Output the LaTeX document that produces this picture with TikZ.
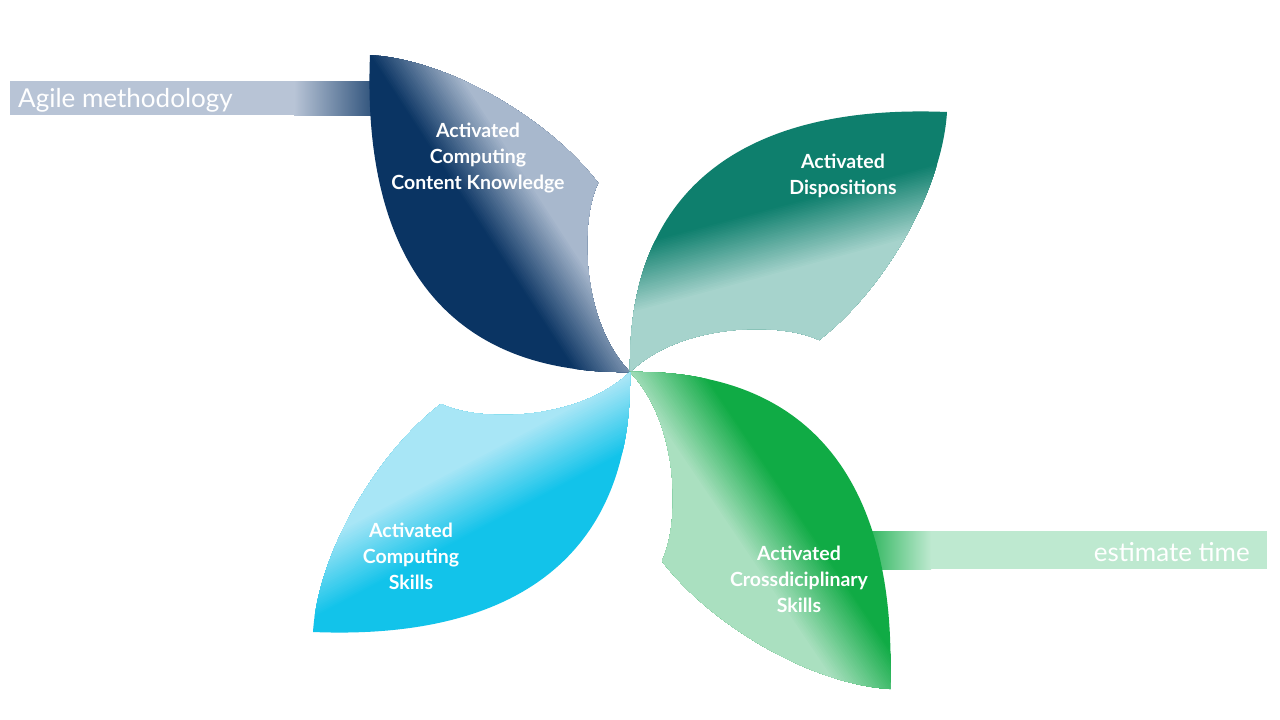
\documentclass[tikz,border=0pt]{standalone}
\usepackage{fontspec}
\setmainfont{Lato}
\definecolor{navyD}{HTML}{0A3463}
\definecolor{navyL}{HTML}{A8B8CD}
\definecolor{tealD}{HTML}{0E7F6D}
\definecolor{tealL}{HTML}{A6D3CC}
\definecolor{greenD}{HTML}{10AB45}
\definecolor{greenL}{HTML}{AAE0C0}
\definecolor{cyanD}{HTML}{12C3EA}
\definecolor{cyanL}{HTML}{A8E6F6}
\definecolor{agileL}{HTML}{B8C4D6}
\definecolor{estL}{HTML}{BEE9D0}
\tikzset{
  petalshape/.style={insert path={(0,0) .. controls (-190,3) and (-268,-122) .. (-260,-317)
     .. controls (-180,-312) and (-80,-252) .. (-32,-189)
     .. controls (-50,-152) and (-50,-52) .. (0,0) -- cycle}},
  lbl/.style={text=white, font=\bfseries\fontsize{19.5}{26}\selectfont, align=center, inner sep=0pt},
  barlbl/.style={text=white, font=\fontsize{26}{30}\selectfont, inner sep=0pt}
}
% #1 rotation, #2 dark, #3 light, #4 start of blend, #5 blend width, #6 blend angle
\newcommand\drawpetal[6]{%
  \begin{scope}[shift={(630,372)},rotate=#1]
    \begin{scope}
      \clip[petalshape];
      \fill[#2] (-600,-600) rectangle (600,600);
      \begin{scope}[rotate=#6]
        \foreach \i in {0,...,39}{
          \pgfmathsetmacro\ss{#4+\i*#5/40}
          \pgfmathtruncatemacro\qq{(\i+1)*2.5}
          \fill[#3!\qq!#2] (\ss,-600) rectangle (600,600);
        }
      \end{scope}
    \end{scope}
  \end{scope}}
\begin{document}
\begin{tikzpicture}[x=1pt,y=-1pt]
\useasboundingbox[fill=white] (0,0) rectangle (1280,720);
% bars
\fill[agileL] (10,81) rectangle (295,115);
\shade[left color=agileL, right color=navyD!85!agileL] (294,81) rectangle (380,115);
\fill[estL] (930,531) rectangle (1267,569);
\shade[left color=greenD, right color=estL] (855,531) rectangle (931,569);
% petals
\drawpetal{0}{navyD}{navyL}{-45}{65}{33}
\drawpetal{-90}{tealD}{tealL}{-121}{65}{15}
\drawpetal{-180}{greenD}{greenL}{-60}{65}{34}
\drawpetal{-270}{cyanD}{cyanL}{-68}{65}{28}
% labels
\node[lbl] (ccck) at (478,158) {Activated\\Computing\\Content Knowledge};
\node[lbl] (disp) at (843,176) {Activated\\Dispositions};
\node[lbl] (csk) at (411,556) {Activated\\Computing\\Skills};
\node[lbl] (cds) at (799,579) {Activated\\Crossdiciplinary\\Skills};
\node[barlbl, anchor=base west] (agile) at (18,107) {Agile methodology};
\node[barlbl, anchor=base east] (est) at (1250,561) {estimate time};
\end{tikzpicture}
\end{document}
